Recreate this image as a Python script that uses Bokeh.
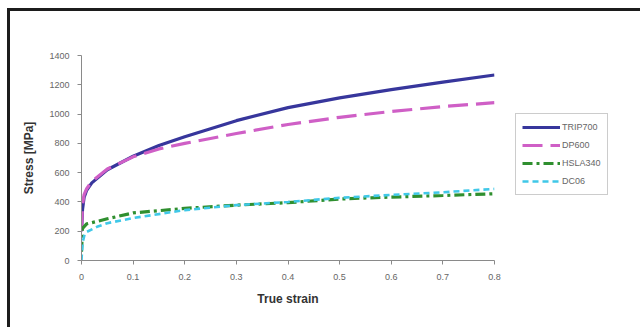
from bokeh.plotting import figure
from bokeh.models import Range1d, FixedTicker, Legend, LegendItem
from bokeh.embed import file_html
from bokeh.resources import INLINE

# ---- data ----
trip_strain = [0.0, 0.002, 0.005, 0.01, 0.02, 0.05, 0.1, 0.15, 0.2, 0.3, 0.4, 0.5, 0.6, 0.7, 0.8]
trip_stress = [200, 350, 430, 480, 530, 620, 712, 785, 845, 955, 1044, 1111, 1167, 1218, 1267]

dp_strain = [0.0, 0.002, 0.005, 0.01, 0.02, 0.05, 0.1, 0.15, 0.2, 0.3, 0.4, 0.5, 0.6, 0.7, 0.8]
dp_stress = [200, 380, 450, 490, 540, 625, 708, 762, 800, 867, 929, 978, 1018, 1051, 1078]

hsla_strain = [0.0, 0.002, 0.01, 0.03, 0.05, 0.1, 0.2, 0.3, 0.4, 0.5, 0.6, 0.7, 0.8]
hsla_stress = [60, 220, 250, 267, 285, 325, 356, 378, 395, 420, 433, 444, 456]

dc_strain = [0.0, 0.002, 0.006, 0.01, 0.03, 0.05, 0.1, 0.2, 0.3, 0.4, 0.5, 0.6, 0.7, 0.8]
dc_stress = [0, 120, 178, 195, 230, 255, 290, 344, 378, 400, 428, 448, 466, 489]

x_ticks = [0, 0.1, 0.2, 0.3, 0.4, 0.5, 0.6, 0.7, 0.8]
y_ticks = [0, 200, 400, 600, 800, 1000, 1200, 1400]

series_names = ["TRIP700", "DP600", "HSLA340", "DC06"]

FONT = "Liberation Sans"
EDGE = "#1c1c1c"

p = figure(
    frame_width=413, frame_height=205,
    min_border_left=81, min_border_top=55, min_border_right=138, min_border_bottom=67,
    x_range=Range1d(0, 0.8), y_range=Range1d(0, 1400),
    output_backend="svg", toolbar_location=None,
)
p.styles = {
    "background": (
        f"linear-gradient({EDGE},{EDGE}) 7px 8px / 100% 3px no-repeat, "
        f"linear-gradient({EDGE},{EDGE}) 7px 8px / 3px 100% no-repeat, white"
    )
}
p.border_fill_color = None
p.outline_line_color = None
p.xgrid.visible = False
p.ygrid.visible = False
p.background_fill_color = "white"

r1 = p.line(trip_strain, trip_stress, line_color="#37369c", line_width=3.2)
r2 = p.line(dp_strain, dp_stress, line_color="#cf5fc6", line_width=3.2, line_dash="20 8")
r3 = p.line(hsla_strain, hsla_stress, line_color="#2f8f2f", line_width=3.2, line_dash="10 4 3 4")
r4 = p.line(dc_strain, dc_stress, line_color="#40c8e8", line_width=2.6, line_dash="6 4")

for ax in (p.xaxis[0], p.yaxis[0]):
    ax.axis_line_color = "#8a8a8a"
    ax.major_tick_line_color = "#8a8a8a"
    ax.minor_tick_line_color = None
    ax.major_tick_in = 0
    ax.major_tick_out = 4
    ax.major_label_text_font = FONT
    ax.major_label_text_font_size = "9px"
    ax.major_label_text_color = "#666666"
    ax.axis_label_text_font = FONT
    ax.axis_label_text_font_style = "bold"
    ax.axis_label_text_color = "#333333"
    ax.axis_label_text_font_size = "12px"

p.xaxis.ticker = FixedTicker(ticks=x_ticks)
p.yaxis.ticker = FixedTicker(ticks=y_ticks)
p.xaxis.axis_label = "True strain"
p.yaxis.axis_label = "Stress [MPa]"
p.xaxis.major_label_standoff = 9
p.yaxis.major_label_standoff = 8
p.xaxis.axis_label_standoff = 9
p.yaxis.axis_label_standoff = 10

legend = Legend(
    items=[LegendItem(label=n, renderers=[r]) for n, r in zip(series_names, [r1, r2, r3, r4])],
    location=(21, 65),
    label_text_font=FONT,
    label_text_font_size="9px",
    label_text_color="#666666",
    border_line_color="#9a9a9a",
    border_line_width=1,
    background_fill_color="white",
    glyph_width=38,
    glyph_height=14,
    label_height=14,
    label_standoff=2,
    spacing=4,
    padding=6,
    margin=0,
)
p.add_layout(legend, "right")

open("out.html", "w").write(file_html(p, INLINE))
